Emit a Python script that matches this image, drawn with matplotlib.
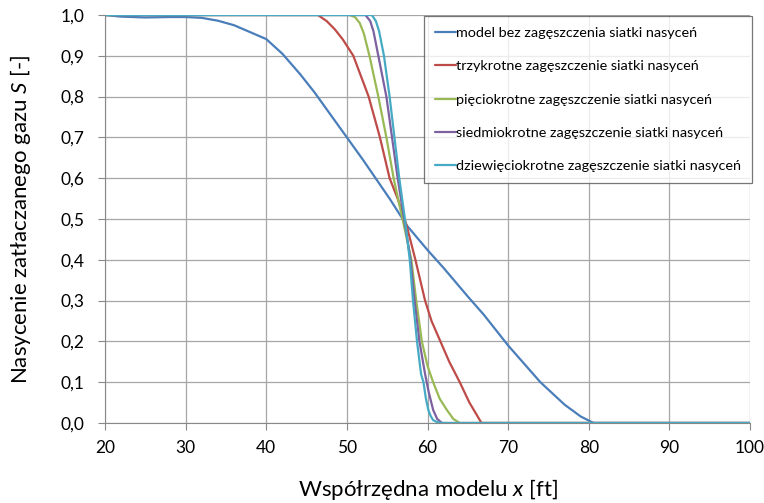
import matplotlib
matplotlib.use('Agg')
import matplotlib.pyplot as plt

plt.rcParams['font.family'] = ['Lato', 'DejaVu Sans']
plt.rcParams['mathtext.fontset'] = 'custom'
plt.rcParams['mathtext.it'] = 'Lato:italic'
plt.rcParams['mathtext.rm'] = 'Lato'

# model bez zageszczenia
x_base = [20, 22, 25, 28, 30, 32, 34, 36, 38, 40, 42, 44.2, 46, 48, 50, 52,
          55.4, 57.4, 60, 62, 65, 67, 70, 72, 74, 77, 79, 80, 80.6, 100]
s_base = [1.0, 0.996, 0.994, 0.995, 0.995, 0.993, 0.986, 0.975, 0.958, 0.941,
          0.905, 0.855, 0.81, 0.755, 0.70, 0.645, 0.547, 0.485, 0.424, 0.38,
          0.31, 0.265, 0.19, 0.145, 0.10, 0.045, 0.016, 0.006, 0.0, 0.0]

# trzykrotne
x_3 = [20, 46.4, 47.5, 48.5, 49.5, 50.8, 52.7, 54.1, 55.3, 56.3, 57.4, 58.5,
       59.7, 60.5, 61.6, 62.7, 64.0, 65.2, 66.7, 100]
s_3 = [1.0, 1.0, 0.985, 0.965, 0.94, 0.90, 0.80, 0.70, 0.60, 0.55, 0.485, 0.40,
       0.30, 0.25, 0.20, 0.15, 0.10, 0.05, 0.0, 0.0]

# pieciokrotne
x_5 = [20, 50.3, 51.0, 51.6, 52.1, 52.8, 53.9, 54.9, 55.8, 56.9, 58.0, 58.6,
       59.3, 60.0, 60.7, 61.5, 62.4, 63.2, 64.0, 100]
s_5 = [1.0, 1.0, 0.995, 0.98, 0.955, 0.90, 0.80, 0.70, 0.60, 0.50, 0.40, 0.30,
       0.20, 0.14, 0.10, 0.06, 0.032, 0.01, 0.0, 0.0]

# siedmiokrotne
x_7 = [20, 52.3, 52.9, 53.3, 53.9, 54.9, 55.6, 56.3, 57.1, 57.9, 58.4, 59.0,
       59.7, 60.1, 60.7, 61.2, 61.8, 100]
s_7 = [1.0, 1.0, 0.985, 0.96, 0.90, 0.80, 0.70, 0.60, 0.50, 0.40, 0.30, 0.20,
       0.12, 0.08, 0.032, 0.01, 0.0, 0.0]

# dziewieciokrotne
x_9 = [20, 53.1, 53.6, 54.0, 54.6, 55.3, 55.9, 56.5, 57.2, 57.8, 58.2, 58.7,
       59.2, 59.5, 59.8, 60.1, 60.4, 60.7, 61.2, 61.9, 100]
s_9 = [1.0, 1.0, 0.985, 0.96, 0.90, 0.80, 0.70, 0.60, 0.50, 0.40, 0.30, 0.20,
       0.12, 0.10, 0.06, 0.032, 0.017, 0.007, 0.002, 0.0, 0.0]

labels = ['model bez zagęszczenia siatki nasyceń',
          'trzykrotne zagęszczenie siatki nasyceń',
          'pięciokrotne zagęszczenie siatki nasyceń',
          'siedmiokrotne zagęszczenie siatki nasyceń',
          'dziewięciokrotne zagęszczenie siatki nasyceń']
colors = ['#4a7ebb', '#be4b48', '#98b954', '#7d60a0', '#46aac5']

fig = plt.figure(figsize=(7.64, 5.03), dpi=100)
ax = fig.add_axes([105 / 764, 80 / 503, 645 / 764, 408 / 503])

series = [(x_base, s_base), (x_3, s_3), (x_5, s_5), (x_7, s_7), (x_9, s_9)]
for (xs, ys), lab, c in zip(series, labels, colors):
    ax.plot(xs, ys, color=c, lw=1.6, label=lab, solid_capstyle='round')

ax.set_xlim(20, 100)
ax.set_ylim(0, 1.0)
ax.set_xticks(range(20, 101, 10))
ax.set_yticks([i / 10 for i in range(11)])
ax.set_yticklabels([('%.1f' % (i / 10)).replace('.', ',') for i in range(11)])
ax.tick_params(labelsize=12.5, color='#888888', length=5, width=0.8)
ax.tick_params(axis='x', pad=7)
ax.tick_params(axis='y', pad=10)
ax.grid(True, color='#a6a6a6', lw=0.9)
ax.set_axisbelow(True)
for side in ['top', 'right']:
    ax.spines[side].set_visible(False)
for side in ['left', 'bottom']:
    ax.spines[side].set_color('#888888')

ax.set_xlabel(r'Współrzędna modelu $\mathit{x}$ [ft]', fontsize=16)
ax.set_ylabel(r'Nasycenie zatłaczanego gazu $\mathit{S}$ [-]', fontsize=16)
ax.xaxis.set_label_coords(0.5, (423 - 490) / 408)
ax.xaxis.label.set_va('center')
ax.yaxis.set_label_coords((21 - 105) / 645, 0.5)
ax.yaxis.label.set_va('center')

leg = ax.legend(loc='upper right', bbox_to_anchor=(752 / 764, 487 / 503),
                bbox_transform=fig.transFigure, fontsize=10.4, frameon=True,
                fancybox=False, handlelength=1.5, handletextpad=0.0,
                labelspacing=1.47, borderpad=0.75, borderaxespad=0)
leg.get_frame().set_edgecolor('#555555')
leg.get_frame().set_linewidth(0.9)

fig.savefig('out.png', dpi=100)
